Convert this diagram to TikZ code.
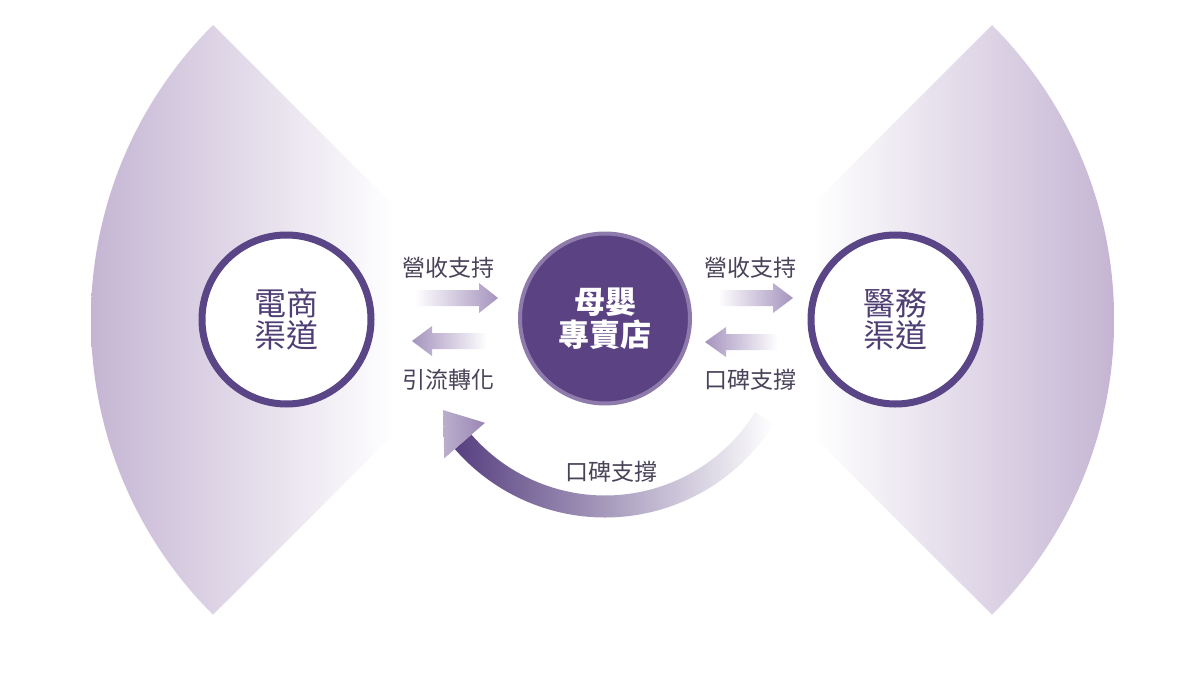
\documentclass[tikz,border=0pt]{standalone}
\usepackage{fontspec}
\newfontfamily\cjk{Noto Sans CJK TC}
\definecolor{fan}{HTML}{C5B5D3}
\definecolor{ac}{HTML}{A593BE}
\definecolor{adark}{HTML}{574080}
\definecolor{amid}{HTML}{8C79A9}
\definecolor{hl}{HTML}{BBAECC}
\definecolor{hd}{HTML}{9A87B4}
\definecolor{dp}{HTML}{5A4586}
\definecolor{sidetext}{HTML}{4E3E74}
\definecolor{cdisc}{HTML}{5B4383}
\definecolor{cring}{HTML}{8E7BAB}
\definecolor{lbltext}{HTML}{4A4258}
\tikzset{
  sidecirc/.style={circle, draw=dp, line width=7pt, fill=white, minimum size=169pt,
    inner sep=0pt, align=center, text=sidetext, font=\cjk\fontsize{32}{32}\selectfont},
  centcirc/.style={circle, draw=cring, line width=4pt, fill=cdisc, minimum size=170pt,
    inner sep=0pt, align=center, text=white, font=\cjk\bfseries\fontsize{31}{33}\selectfont},
  lbl/.style={inner sep=0pt, text=lbltext, font=\cjk\fontsize{23}{23}\selectfont},
}
\begin{document}
\begin{tikzpicture}[x=1pt,y=-1pt]
\useasboundingbox (0,0) rectangle (1186,688);
\fill[white] (0,0) rectangle (1186,688);
% left fan
\begin{scope}
  \clip (508,320) -- (213,25) arc[start angle=225,end angle=135,radius=417] -- cycle;
  \shade[left color=fan, middle color=fan!60!white, right color=white] (91,0) rectangle (395,688);
\end{scope}
% right fan
\begin{scope}
  \clip (697,320) -- (992,25) arc[start angle=-45,end angle=45,radius=417] -- cycle;
  \shade[left color=white, middle color=fan!60!white, right color=fan] (812,0) rectangle (1114,688);
\end{scope}
% curved arrow
\begin{scope}[shift={(605,318.5)}]
  \shade[left color=adark, middle color=amid, right color=white]
    (32:199) arc[start angle=32,end angle=139,radius=199] -- (139:177)
    arc[start angle=139,end angle=32,radius=177] -- cycle;
  \shade[left color=hl, right color=hd] (139:159) -- (150.5:186) -- (139:213) -- cycle;
\end{scope}
% small arrows
\shade[left color=white, right color=ac] (415,290) -- (479,290) -- (479,283) -- (498,298) -- (479,313) -- (479,306) -- (415,306) -- cycle;
\shade[left color=ac, right color=white] (412,341) -- (432,326) -- (432,333) -- (487,333) -- (487,349) -- (432,349) -- (432,356) -- cycle;
\shade[left color=white, right color=ac] (718,290) -- (773,290) -- (773,283) -- (793,298) -- (773,313) -- (773,306) -- (718,306) -- cycle;
\shade[left color=ac, right color=white] (705,342) -- (726,327) -- (726,334) -- (778,334) -- (778,350) -- (726,350) -- (726,357) -- cycle;
% circles
\node[sidecirc] (ec) at (286.5,319.5) {電商\\渠道};
\node[sidecirc] (med) at (895.5,319.5) {醫務\\渠道};
\node[centcirc] (shop) at (605,318.5) {母嬰\\專賣店};
% labels
\node[lbl] (l1) at (448,268) {營收支持};
\node[lbl] (l2) at (448,380) {引流轉化};
\node[lbl] (r1) at (750,268) {營收支持};
\node[lbl] (r2) at (750,380) {口碑支撐};
\node[lbl] (b1) at (611,472) {口碑支撐};
\end{tikzpicture}
\end{document}
